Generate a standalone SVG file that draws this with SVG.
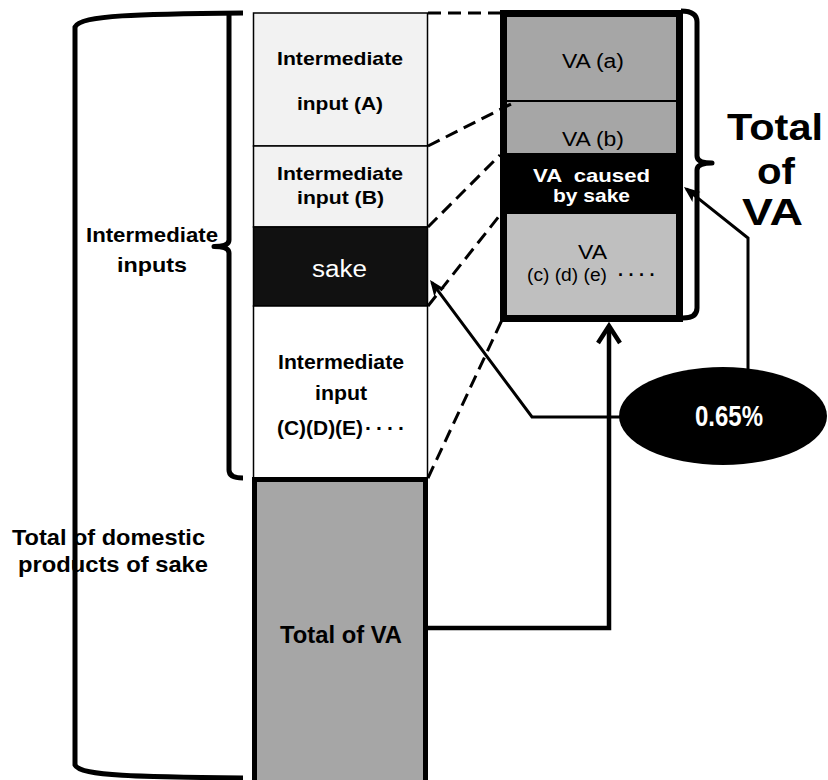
<svg xmlns="http://www.w3.org/2000/svg" width="828" height="780" viewBox="0 0 828 780">
  <style>
    text { font-family: "Liberation Sans", Arial, sans-serif; }
    .b { font-weight: bold; }
    .lbl { fill: #000; text-anchor: middle; }
    .inv { fill: #fff; text-anchor: middle; }
    .cell { stroke: #000; stroke-width: 1.5; }
    .brace { fill: none; stroke: #000; stroke-width: 5; stroke-linejoin: round; }
    .dash { fill: none; stroke: #000; stroke-width: 3; stroke-dasharray: 13 7; }
    .flow { fill: none; stroke: #000; stroke-width: 3; }
    .flow-thick { fill: none; stroke: #000; stroke-width: 4.5; stroke-linejoin: miter; }
  </style>
  <defs>
    <marker id="head" markerUnits="userSpaceOnUse" markerWidth="20" markerHeight="16" refX="13" refY="8" orient="auto" overflow="visible">
      <path d="M16,8 L0,1.5 L4,8 L0,14.5 Z" fill="#000"/>
    </marker>
    <marker id="chevron" markerUnits="userSpaceOnUse" markerWidth="24" markerHeight="26" refX="17" refY="12" orient="auto" overflow="visible">
      <path d="M0,1 L17,12 L0,23" fill="none" stroke="#000" stroke-width="4.5"/>
    </marker>
  </defs>

  <rect width="828" height="780" fill="#fff"/>

  <!-- outer bracket: total of domestic products -->
  <g id="total-products">
    <text class="lbl b" font-size="22" x="108.5" y="545" textLength="193" lengthAdjust="spacingAndGlyphs">Total of domestic</text>
    <text class="lbl b" font-size="22" x="113" y="572" textLength="190" lengthAdjust="spacingAndGlyphs">products of sake</text>
    <path class="brace" d="M243,13 C140,14 80,15 75,27 V765 C80,776 140,777 243,778"/>
  </g>

  <!-- inner bracket: intermediate inputs -->
  <g id="intermediate-inputs">
    <text class="lbl b" font-size="21" x="152" y="242" textLength="132" lengthAdjust="spacingAndGlyphs">Intermediate</text>
    <text class="lbl b" font-size="21" x="152" y="272" textLength="70" lengthAdjust="spacingAndGlyphs">inputs</text>
    <path class="brace" d="M229,12 V240 Q229,246.5 214,246.5 Q229,246.5 229,253 V470 Q229,478 243,478"/>
  </g>

  <!-- left column: composition of domestic products -->
  <g id="input-a">
    <rect class="cell" x="253.5" y="13" width="174" height="133" fill="#f2f2f2"/>
    <text class="lbl b" font-size="19" x="340" y="65" textLength="126" lengthAdjust="spacingAndGlyphs">Intermediate</text>
    <text class="lbl b" font-size="19" x="340" y="110" textLength="86" lengthAdjust="spacingAndGlyphs">input (A)</text>
  </g>
  <g id="input-b">
    <rect class="cell" x="253.5" y="146" width="174" height="81" fill="#f2f2f2"/>
    <text class="lbl b" font-size="19" x="340" y="180" textLength="126" lengthAdjust="spacingAndGlyphs">Intermediate</text>
    <text class="lbl b" font-size="19" x="340.5" y="204" textLength="87" lengthAdjust="spacingAndGlyphs">input (B)</text>
  </g>
  <g id="input-sake">
    <rect class="cell" x="253.5" y="227" width="174" height="79" fill="#111"/>
    <text class="inv" font-size="23" x="339.5" y="277" textLength="55" lengthAdjust="spacingAndGlyphs">sake</text>
  </g>
  <g id="input-cde">
    <rect class="cell" x="253.5" y="306" width="174" height="172" fill="#fff"/>
    <text class="lbl b" font-size="21" x="341" y="369" textLength="126" lengthAdjust="spacingAndGlyphs">Intermediate</text>
    <text class="lbl b" font-size="21" x="341" y="400" textLength="52" lengthAdjust="spacingAndGlyphs">input</text>
    <text class="b" font-size="21" x="277" y="435" textLength="86" lengthAdjust="spacingAndGlyphs">(C)(D)(E)</text>
    <text class="b" font-size="21" x="365" y="435" letter-spacing="4">····</text>
  </g>
  <g id="total-va">
    <rect x="254.5" y="479.5" width="171" height="310" fill="#a6a6a6" stroke="#000" stroke-width="5"/>
    <text class="lbl b" font-size="23" x="341" y="643" textLength="122" lengthAdjust="spacingAndGlyphs">Total of VA</text>
  </g>

  <!-- right column: value added breakdown -->
  <g id="va-a">
    <rect x="507" y="17" width="169" height="84" fill="#a6a6a6"/>
    <text class="lbl" font-size="20" x="593" y="68" textLength="62" lengthAdjust="spacingAndGlyphs">VA (a)</text>
  </g>
  <g id="va-b">
    <rect x="507" y="101" width="169" height="52" fill="#a6a6a6"/>
    <line x1="507" y1="101" x2="676" y2="101" stroke="#000" stroke-width="2"/>
    <text class="lbl" font-size="20" x="593" y="146" textLength="62" lengthAdjust="spacingAndGlyphs">VA (b)</text>
  </g>
  <g id="va-sake">
    <rect x="507" y="153" width="169" height="61" fill="#000"/>
    <text class="inv b" font-size="19" x="591.5" y="182" textLength="117" lengthAdjust="spacingAndGlyphs" xml:space="preserve">VA  caused</text>
    <text class="inv b" font-size="19" x="591.5" y="202" textLength="77" lengthAdjust="spacingAndGlyphs">by sake</text>
  </g>
  <g id="va-cde">
    <rect x="507" y="214" width="169" height="101" fill="#bfbfbf"/>
    <text class="lbl" font-size="21" x="592.5" y="259" textLength="29" lengthAdjust="spacingAndGlyphs">VA</text>
    <text font-size="18" x="527" y="281" textLength="80" lengthAdjust="spacingAndGlyphs">(c) (d) (e)</text>
    <text class="b" font-size="18" x="618" y="281" letter-spacing="4.5">····</text>
  </g>
  <rect id="va-frame" x="503.5" y="13.5" width="176" height="305" fill="none" stroke="#000" stroke-width="7"/>

  <!-- bracket and label: total of VA -->
  <g id="total-va-label">
    <path class="brace" stroke-width="4" d="M681,11 Q697,11 697,22 V156 Q697,163 712,163 Q697,163 697,170 V308 Q697,318 683,318"/>
    <text class="lbl b" font-size="37" x="775" y="140" textLength="96" lengthAdjust="spacingAndGlyphs">Total</text>
    <text class="lbl b" font-size="37" x="776" y="184" textLength="38" lengthAdjust="spacingAndGlyphs">of</text>
    <text class="lbl b" font-size="37" x="772.5" y="225" textLength="61" lengthAdjust="spacingAndGlyphs">VA</text>
  </g>

  <!-- connectors -->
  <g id="connectors">
    <path class="dash" d="M428,13 H500"/>
    <path class="dash" d="M428,146 L517,101"/>
    <path class="dash" d="M428,227 L500,155"/>
    <path class="dash" d="M428,306 L500,215"/>
    <path class="dash" d="M428,478 L502,320"/>
    <path class="flow" d="M622,417 H532 L431.8,282.4" marker-end="url(#head)"/>
    <path class="flow" d="M748,369 V238 L686.3,188.9" marker-end="url(#head)"/>
    <path class="flow-thick" d="M428,628 H609 V326" marker-end="url(#chevron)"/>
  </g>

  <!-- share of VA caused by sake -->
  <g id="ratio">
    <ellipse cx="723" cy="416" rx="104" ry="49" fill="#000"/>
    <text class="inv b" font-size="29" x="729" y="426" textLength="68" lengthAdjust="spacingAndGlyphs">0.65%</text>
  </g>
</svg>
